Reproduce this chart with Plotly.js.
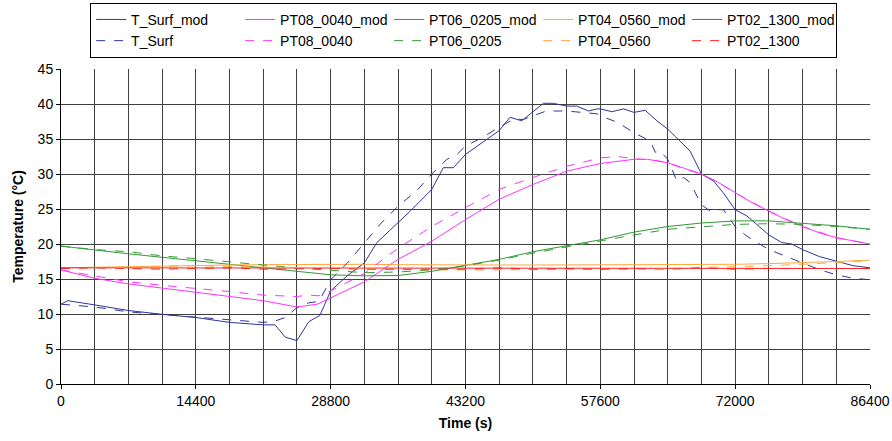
<!DOCTYPE html>
<html>
<head>
<meta charset="utf-8">
<script src="https://cdn.plot.ly/plotly-3.0.1.min.js"></script>
<style>html,body{margin:0;padding:0;background:#fff;}#chart{width:892px;height:441px;}</style>
</head>
<body>
<div id="chart"></div>
<script>
// Times in hours (converted to seconds for plotting)
const hoursGrid = [0,1,2,3,4,5,6,7,8,9,10,11,12,13,14,15,16,17,18,19,20,21,22,23,24];

const tSurfModHours = [0,0.2,1,2,3,4,5,6,6.35,6.65,7,7.35,7.68,8,8.5,9,9.37,10,10.36,11,11.34,11.64,12,13,13.32,13.67,14.31,14.6,15,15.3,15.65,15.9,16,16.34,16.69,17,17.33,17.68,18,18.66,19,19.36,19.65,20,20.35,21,21.38,21.68,22,22.5,23,23.5,24];
const tSurfMod = [11.4,11.9,11.3,10.5,9.95,9.5,8.8,8.45,8.45,6.7,6.2,8.9,9.8,13.3,15.5,17.3,20.2,23.0,24.7,27.8,30.9,30.9,32.8,36.2,38.1,37.6,40.1,40.1,39.7,39.7,39.0,39.3,39.3,38.9,39.3,38.8,39.1,37.6,36.4,33.3,30.0,29.0,27.3,24.9,24.0,21.3,20.2,20.0,19.2,18.2,17.5,16.9,16.6];

const tSurfHours = [0,1,2,3,4,5,6,6.35,6.65,7,7.35,7.65,8,8.5,9,9.5,10,10.55,11,11.45,11.75,12,12.5,13,13.42,13.72,14,14.4,15,15.5,15.9,16,16.3,16.5,17,17.48,17.63,17.77,18,18.27,18.47,18.66,19,19.26,19.4,19.65,20,20.35,21,21.63,22,22.52,23,23.5,24];
const tSurf = [11.4,11.0,10.3,9.9,9.5,9.1,8.8,9.0,9.5,10.9,11.6,11.8,14.9,17.3,20.1,23.0,25.4,27.6,30.0,32.1,32.8,34.0,35.2,36.7,37.8,37.8,38.3,39.0,39.0,38.8,38.6,38.3,37.8,37.4,35.9,34.7,33.1,33.3,32.1,29.0,29.5,28.8,25.6,24.7,24.9,24.9,22.5,21.1,19.2,18.0,17.3,16.3,15.6,15.1,14.9];

const pt08ModHours = [0,1,2,3,4,5,6,7,7.6,8,9,10,11,12,13,14,15,16,17,17.4,18,18.5,19,19.5,20,20.5,21,21.5,22,22.5,23,23.5,24];
const pt08Mod = [16.3,15.1,14.3,13.7,13.1,12.5,11.9,11.0,11.4,12.3,14.6,17.8,20.4,23.5,26.4,28.5,30.4,31.5,32.1,32.1,31.6,30.8,30.0,28.8,27.3,25.9,24.7,23.5,22.5,21.6,20.9,20.4,20.0];

const pt08Hours = [0,1,2,3,4,5,6,7,7.35,7.65,8,9,10,11,12,13,14,15,16,16.5,17,17.7,18,18.5,19,19.5,20,21,22,23,24];
const pt08 = [16.3,15.4,14.6,14.1,13.7,13.2,12.7,12.5,12.7,12.6,13.3,15.8,19.4,22.5,25.2,27.8,29.5,31.1,32.3,32.5,32.2,31.9,31.6,30.7,30.0,28.8,27.3,24.7,22.5,20.9,20.0];

const pt06Mod = [19.7,19.1,18.6,18.1,17.6,17.0,16.5,16.0,15.6,15.45,15.5,16.1,16.9,17.8,18.9,19.8,20.6,21.7,22.5,23.0,23.3,23.3,23.0,22.6,22.1];
const pt06 = [19.7,19.2,18.9,18.3,17.9,17.4,17.0,16.6,16.2,15.9,16.0,16.3,16.9,17.7,18.7,19.6,20.4,21.3,22.1,22.5,22.8,22.9,22.8,22.5,22.1];

const pt04Mod = [16.6,16.7,16.8,16.9,17.0,17.0,17.05,17.1,17.1,17.1,17.05,17.0,17.0,17.0,17.0,17.0,17.0,17.0,17.0,17.05,17.1,17.2,17.3,17.5,17.7];
const pt04 = [16.5,16.6,16.7,16.9,16.9,16.8,16.7,16.7,16.6,16.5,16.4,16.3,16.3,16.3,16.4,16.3,16.4,16.4,16.5,16.6,16.7,16.9,17.1,17.4,17.6];

const pt02Mod = [16.6,16.6,16.6,16.6,16.6,16.6,16.6,16.55,16.55,16.5,16.5,16.5,16.5,16.5,16.5,16.5,16.5,16.5,16.5,16.5,16.5,16.5,16.5,16.5,16.5];
const pt02 = [16.5,16.6,16.5,16.4,16.5,16.6,16.4,16.5,16.5,16.4,16.4,16.5,16.4,16.6,16.4,16.5,16.4,16.5,16.4,16.6,16.4,16.5,16.5,16.6,16.5];

const xTickVals = [0,14400,28800,43200,57600,72000,86400];
const yTickVals = [0,5,10,15,20,25,30,35,40,45];

const toSec = h => h.map(v => v * 3600);

const cNavy = '#333399', cMag = '#ff33ff', cGreen = '#339933', cOrange = '#ffa840', cRed = '#ff2020';

function tr(name, hrs, vals, color, dash) {
  return {type:'scatter', mode:'lines', name:name, x:toSec(hrs), y:vals,
          line:{color:color, width:1, dash:dash}};
}

const data = [
  tr('T_Surf_mod', tSurfModHours, tSurfMod, cNavy, 'solid'),
  tr('PT08_0040_mod', pt08ModHours, pt08Mod, cMag, 'solid'),
  tr('PT06_0205_mod', hoursGrid, pt06Mod, cGreen, 'solid'),
  tr('PT04_0560_mod', hoursGrid, pt04Mod, cOrange, 'solid'),
  tr('PT02_1300_mod', hoursGrid, pt02Mod, cRed, 'solid'),
  tr('T_Surf', tSurfHours, tSurf, cNavy, 'dash'),
  tr('PT08_0040', pt08Hours, pt08, cMag, 'dash'),
  tr('PT06_0205', hoursGrid, pt06, cGreen, 'dash'),
  tr('PT04_0560', hoursGrid, pt04, cOrange, 'dash'),
  tr('PT02_1300', hoursGrid, pt02, cRed, 'dash')
];

const layout = {
  width:892, height:441,
  margin:{l:61, r:22, t:69, b:57, autoexpand:false},
  paper_bgcolor:'#fff', plot_bgcolor:'#fff',
  font:{family:'Liberation Sans, Arial, sans-serif', size:14, color:'#000'},
  showlegend:true,
  legend:{orientation:'h', x:0.036, xanchor:'left', y:1.21, yanchor:'top',
          bordercolor:'#000', borderwidth:1, bgcolor:'#fff',
          font:{size:14, color:'#000'}, entrywidth:104, entrywidthmode:'pixels',
          tracegroupgap:0, traceorder:'normal'},
  xaxis:{range:[0,86400], tickvals:xTickVals, ticktext:xTickVals.map(String),
         showgrid:true, gridcolor:'#404040', gridwidth:1,
         minor:{dtick:3600, tick0:0, showgrid:true, gridcolor:'#404040', gridwidth:1, ticks:''},
         showline:true, linecolor:'#000', linewidth:1, ticks:'outside', ticklen:4, tickcolor:'#000',
         zeroline:false, fixedrange:true,
         title:{text:'<b>Time (s)</b>', font:{size:14}, standoff:10}},
  yaxis:{range:[0,45], tickvals:yTickVals, showgrid:true, gridcolor:'#404040', gridwidth:1,
         showline:true, linecolor:'#000', linewidth:1, ticks:'outside', ticklen:4, tickcolor:'#000',
         zeroline:false, fixedrange:true,
         title:{text:'<b>Temperature (°C)</b>', font:{size:14}, standoff:10}}
};

Plotly.newPlot('chart', data, layout, {displayModeBar:false, staticPlot:true});
</script>
</body>
</html>
